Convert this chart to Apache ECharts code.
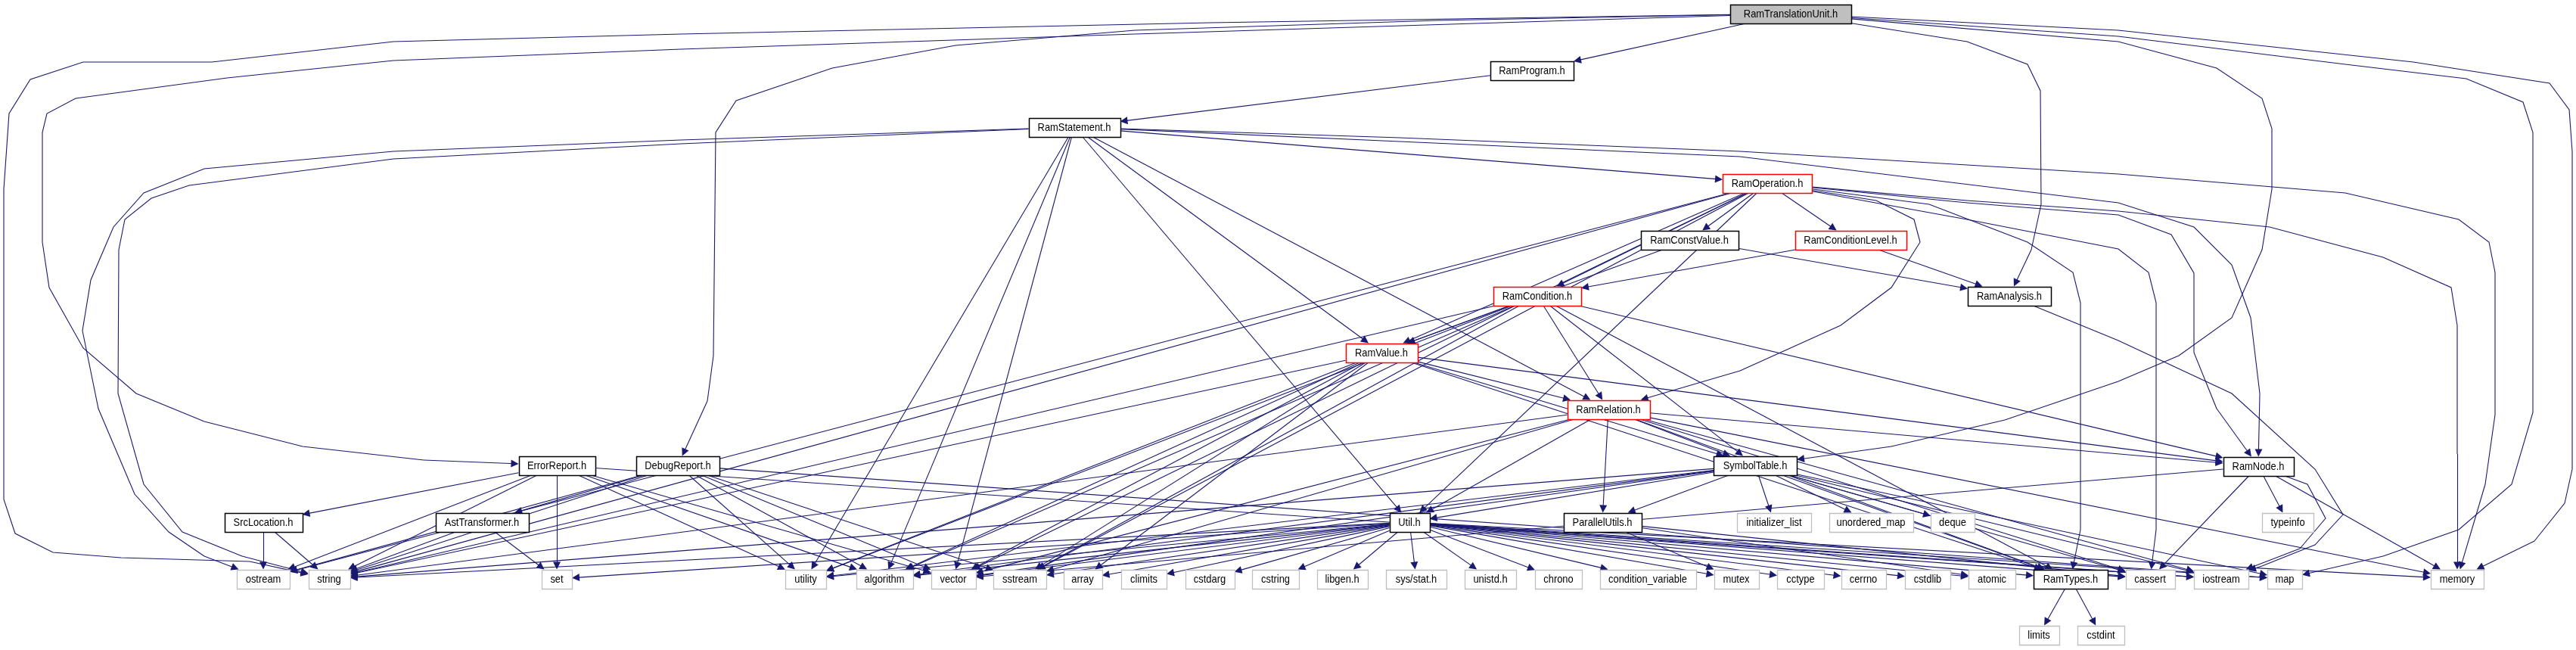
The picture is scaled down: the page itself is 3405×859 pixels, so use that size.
<!DOCTYPE html>
<html>
<head>
<meta charset="utf-8">
<script src="https://cdn.jsdelivr.net/npm/echarts@6/dist/echarts.min.js"></script>
<style>html,body{margin:0;padding:0;background:#fff;}#c{width:3405px;height:859px;}</style>
</head>
<body>
<div id="c"></div>
<script>
// ---- data: header files (nodes) ----
const rootNodes = ['RamTranslationUnit.h'];
const truncatedNodes = ['RamOperation.h', 'RamConditionLevel.h', 'RamCondition.h', 'RamValue.h', 'RamRelation.h'];
const projectNodes = ['RamProgram.h', 'RamStatement.h', 'RamConstValue.h', 'RamAnalysis.h', 'ErrorReport.h', 'DebugReport.h',
  'SymbolTable.h', 'RamNode.h', 'SrcLocation.h', 'AstTransformer.h', 'Util.h', 'ParallelUtils.h', 'RamTypes.h'];
const systemNodes = ['initializer_list', 'unordered_map', 'deque', 'typeinfo', 'ostream', 'string', 'set', 'utility', 'algorithm',
  'vector', 'sstream', 'array', 'climits', 'cstdarg', 'cstring', 'libgen.h', 'sys/stat.h', 'unistd.h', 'chrono',
  'condition_variable', 'mutex', 'cctype', 'cerrno', 'cstdlib', 'atomic', 'cassert', 'iostream', 'map', 'memory',
  'limits', 'cstdint'];

// ---- data: include edges [includer, included] ----
const edges = [
  ['RamTranslationUnit.h','RamProgram.h'],['RamTranslationUnit.h','RamAnalysis.h'],['RamTranslationUnit.h','DebugReport.h'],
  ['RamTranslationUnit.h','ErrorReport.h'],['RamTranslationUnit.h','SymbolTable.h'],['RamTranslationUnit.h','map'],
  ['RamTranslationUnit.h','memory'],['RamTranslationUnit.h','string'],
  ['RamProgram.h','RamStatement.h'],
  ['RamStatement.h','RamOperation.h'],['RamStatement.h','RamRelation.h'],['RamStatement.h','RamValue.h'],['RamStatement.h','RamNode.h'],
  ['RamStatement.h','Util.h'],['RamStatement.h','algorithm'],['RamStatement.h','vector'],['RamStatement.h','utility'],
  ['RamStatement.h','ostream'],['RamStatement.h','string'],['RamStatement.h','memory'],
  ['RamOperation.h','RamConstValue.h'],['RamOperation.h','RamConditionLevel.h'],['RamOperation.h','RamCondition.h'],
  ['RamOperation.h','RamValue.h'],['RamOperation.h','RamRelation.h'],['RamOperation.h','RamNode.h'],['RamOperation.h','RamTypes.h'],
  ['RamOperation.h','Util.h'],['RamOperation.h','cassert'],['RamOperation.h','memory'],['RamOperation.h','string'],
  ['RamOperation.h','vector'],['RamOperation.h','sstream'],['RamOperation.h','ostream'],
  ['RamConstValue.h','RamValue.h'],['RamConstValue.h','RamAnalysis.h'],
  ['RamConditionLevel.h','RamCondition.h'],['RamConditionLevel.h','RamAnalysis.h'],
  ['RamAnalysis.h','iostream'],
  ['RamCondition.h','RamValue.h'],['RamCondition.h','RamRelation.h'],['RamCondition.h','SymbolTable.h'],['RamCondition.h','RamNode.h'],
  ['RamCondition.h','RamTypes.h'],['RamCondition.h','string'],['RamCondition.h','algorithm'],['RamCondition.h','sstream'],
  ['RamCondition.h','utility'],
  ['RamValue.h','RamRelation.h'],['RamValue.h','SymbolTable.h'],['RamValue.h','RamNode.h'],['RamValue.h','RamTypes.h'],
  ['RamValue.h','array'],['RamValue.h','sstream'],['RamValue.h','vector'],['RamValue.h','algorithm'],['RamValue.h','string'],
  ['RamValue.h','utility'],
  ['RamRelation.h','Util.h'],['RamRelation.h','ParallelUtils.h'],['RamRelation.h','SymbolTable.h'],['RamRelation.h','RamNode.h'],
  ['RamRelation.h','RamTypes.h'],['RamRelation.h','string'],['RamRelation.h','vector'],['RamRelation.h','sstream'],
  ['RamRelation.h','cassert'],['RamRelation.h','iostream'],['RamRelation.h','memory'],
  ['SymbolTable.h','ParallelUtils.h'],['SymbolTable.h','Util.h'],['SymbolTable.h','initializer_list'],['SymbolTable.h','unordered_map'],
  ['SymbolTable.h','deque'],['SymbolTable.h','RamTypes.h'],['SymbolTable.h','cassert'],['SymbolTable.h','iostream'],
  ['SymbolTable.h','map'],['SymbolTable.h','string'],['SymbolTable.h','vector'],['SymbolTable.h','utility'],['SymbolTable.h','algorithm'],
  ['ParallelUtils.h','atomic'],['ParallelUtils.h','mutex'],['ParallelUtils.h','cassert'],
  ['Util.h','string'],['Util.h','set'],['Util.h','utility'],['Util.h','algorithm'],['Util.h','vector'],['Util.h','sstream'],
  ['Util.h','array'],['Util.h','climits'],['Util.h','cstdarg'],['Util.h','cstring'],['Util.h','libgen.h'],['Util.h','sys/stat.h'],
  ['Util.h','unistd.h'],['Util.h','chrono'],['Util.h','condition_variable'],['Util.h','mutex'],['Util.h','cctype'],
  ['Util.h','cerrno'],['Util.h','cstdlib'],['Util.h','atomic'],['Util.h','RamTypes.h'],['Util.h','cassert'],['Util.h','iostream'],
  ['Util.h','map'],['Util.h','memory'],
  ['RamNode.h','typeinfo'],['RamNode.h','cassert'],['RamNode.h','iostream'],['RamNode.h','memory'],['RamNode.h','vector'],
  ['RamTypes.h','limits'],['RamTypes.h','cstdint'],
  ['ErrorReport.h','SrcLocation.h'],['ErrorReport.h','set'],['ErrorReport.h','utility'],['ErrorReport.h','algorithm'],
  ['ErrorReport.h','vector'],['ErrorReport.h','string'],['ErrorReport.h','ostream'],['ErrorReport.h','iostream'],
  ['DebugReport.h','AstTransformer.h'],['DebugReport.h','string'],['DebugReport.h','ostream'],['DebugReport.h','utility'],
  ['DebugReport.h','vector'],['DebugReport.h','sstream'],['DebugReport.h','algorithm'],['DebugReport.h','map'],
  ['SrcLocation.h','ostream'],['SrcLocation.h','string'],
  ['AstTransformer.h','string'],['AstTransformer.h','set']
];

// ---- layout (box centre x, centre y, width) ----
const BOX_H = 25;
const layout = {
  'RamTranslationUnit.h':[2367,18,160], 'RamProgram.h':[2025,93,110], 'RamStatement.h':[1420,168,121],
  'RamOperation.h':[2336,242,118], 'RamConstValue.h':[2233,317,129], 'RamConditionLevel.h':[2446,317,147],
  'RamCondition.h':[2032,391,116], 'RamAnalysis.h':[2656,391,110], 'RamValue.h':[1826,466,95],
  'RamRelation.h':[2126,541,109], 'ErrorReport.h':[736,615,101], 'DebugReport.h':[896,615,110],
  'SymbolTable.h':[2320,615,110], 'RamNode.h':[2985,616,93], 'SrcLocation.h':[348,690,103],
  'AstTransformer.h':[637,690,123], 'Util.h':[1863,690,53], 'ParallelUtils.h':[2118,690,103],
  'initializer_list':[2345,690,98], 'unordered_map':[2473,690,111], 'deque':[2581,690,58], 'typeinfo':[3024,690,68],
  'ostream':[348,765,70], 'string':[435,765,55], 'set':[736,765,40], 'utility':[1065,765,54], 'algorithm':[1169,765,75],
  'vector':[1260,765,59], 'sstream':[1348,765,70], 'array':[1431,765,51], 'climits':[1512,765,60], 'cstdarg':[1599,765,65],
  'cstring':[1686,765,62], 'libgen.h':[1774,765,67], 'sys/stat.h':[1872,765,80], 'unistd.h':[1970,765,68],
  'chrono':[2060,765,62], 'condition_variable':[2178,765,127], 'mutex':[2295,765,59], 'cctype':[2380,765,62],
  'cerrno':[2463,765,59], 'cstdlib':[2548,765,60], 'atomic':[2633,765,62], 'RamTypes.h':[2737,765,98],
  'cassert':[2842,765,65], 'iostream':[2936,765,72], 'map':[3020,765,46], 'memory':[3248,765,70],
  'limits':[2695,839,53], 'cstdint':[2777,839,62]
};

// ---- edge routing waypoints (layout only) ----
const routes = {
  'RamTranslationUnit.h>string': [[1600,30],[900,45],[520,55],[280,82],[110,82],[40,105],[12,150],[5,250],[5,660],[20,705],[70,730],[160,737],[330,742]],
  'RamTranslationUnit.h>ErrorReport.h': [[1500,45],[900,65],[520,80],[300,103],[100,130],[62,150],[56,175],[56,320],[65,380],[110,460],[180,520],[270,557],[400,590],[560,608]],
  'RamTranslationUnit.h>DebugReport.h': [[1900,27],[1500,40],[1263,60],[1100,90],[973,133],[946,175],[943,470],[935,530]],
  'RamTranslationUnit.h>memory': [[2800,40],[3190,82],[3370,110],[3396,145],[3400,200],[3400,620],[3390,665],[3350,715]],
  'RamTranslationUnit.h>map': [[2800,48],[3100,85],[3260,104],[3335,135],[3348,175],[3348,545],[3320,640],[3250,700],[3150,735]],
  'RamTranslationUnit.h>SymbolTable.h': [[2800,55],[2930,90],[2990,130],[3003,170],[3003,250],[2990,330],[2950,420],[2880,470],[2800,504],[2650,555],[2500,590]],
  'RamTranslationUnit.h>RamAnalysis.h': [[2600,55],[2680,85],[2697,120],[2698,270],[2685,330]],
  'RamStatement.h>ostream': [[900,185],[520,200],[270,223],[190,255],[150,300],[120,370],[109,437],[130,540],[178,653],[223,703],[270,735]],
  'RamStatement.h>string': [[900,190],[520,210],[250,245],[200,262],[165,290],[157,330],[156,520],[190,640],[241,703],[320,735]],
  'RamStatement.h>memory': [[1850,182],[2300,200],[2800,230],[3100,255],[3250,290],[3290,320],[3298,360],[3298,548],[3285,640]],
  'RamStatement.h>RamNode.h': [[1850,187],[2300,207],[2800,268],[2900,300],[2950,350],[2975,420],[2987,520]],
  'RamOperation.h>memory': [[2600,265],[2800,279],[3000,300],[3150,340],[3240,380],[3248,430],[3248,600]],
  'RamOperation.h>RamNode.h': [[2600,268],[2800,284],[2870,310],[2900,361],[2900,466],[2930,540]],
  'RamOperation.h>cassert': [[2600,290],[2800,329],[2840,360],[2850,400],[2850,700]],
  'RamOperation.h>RamTypes.h': [[2550,270],[2680,320],[2740,360],[2750,400],[2750,700]],
  'RamOperation.h>RamRelation.h': [[2480,265],[2530,290],[2538,320],[2500,380],[2433,430],[2300,490]],
  'RamAnalysis.h>iostream': [[2800,450],[2950,520],[3060,620],[3097,680],[3060,720],[2990,748]],
  'RamNode.h>iostream': [[3050,640],[3074,685],[3040,725]]
};

const EDGE_COLOR = '#191970';
const ARROW = 10;

function kindOf(n) {
  if (rootNodes.includes(n)) return 'root';
  if (truncatedNodes.includes(n)) return 'red';
  if (projectNodes.includes(n)) return 'normal';
  return 'leaf';
}
function boxPoint(name, toward) {
  const c = layout[name];
  const hw = c[2] / 2, hh = BOX_H / 2;
  const dx = toward[0] - c[0], dy = toward[1] - c[1];
  if (dx === 0 && dy === 0) return [c[0], c[1]];
  const tx = dx !== 0 ? hw / Math.abs(dx) : Infinity;
  const ty = dy !== 0 ? hh / Math.abs(dy) : Infinity;
  const t = Math.min(tx, ty);
  return [c[0] + dx * t, c[1] + dy * t];
}

const pathData = [];
const arrowData = [];
edges.forEach(([s, t]) => {
  const wp = routes[s + '>' + t] || [];
  const sc = layout[s], tc = layout[t];
  const first = wp.length ? wp[0] : [tc[0], tc[1]];
  const start = boxPoint(s, first);
  const prev = wp.length ? wp[wp.length - 1] : start;
  const endB = boxPoint(t, wp.length ? prev : [sc[0], sc[1]]);
  const ddx = endB[0] - prev[0], ddy = endB[1] - prev[1];
  const len = Math.hypot(ddx, ddy) || 1;
  const end = [endB[0] - ddx / len * ARROW / 2, endB[1] - ddy / len * ARROW / 2];
  if (wp.length) {
    pathData.push({ coords: [start].concat(wp) });
  }
  arrowData.push({ coords: [prev, end] });
});

const allNodes = rootNodes.concat(truncatedNodes, projectNodes, systemNodes);
const nodeData = allNodes.map(n => {
  const c = layout[n];
  return { name: n, value: [c[0], c[1], c[2]] };
});

function renderNode(params, api) {
  const name = allNodes[params.dataIndex];
  const k = kindOf(name);
  const p = api.coord([api.value(0), api.value(1)]);
  const w = api.value(2);
  const x0 = Math.round(p[0] - w / 2) + 0.5;
  const y0 = Math.round(p[1] - BOX_H / 2) + 0.5;
  return {
    type: 'group',
    children: [
      {
        type: 'rect',
        shape: { x: x0, y: y0, width: w, height: BOX_H },
        style: {
          fill: k === 'root' ? '#bfbfbf' : '#ffffff',
          stroke: k === 'red' ? '#ff0000' : (k === 'leaf' ? '#bfbfbf' : '#000000'),
          lineWidth: k === 'leaf' ? 1.3 : 1.5
        }
      },
      {
        type: 'text',
        x: p[0], y: p[1] + 0.5,
        scaleX: 0.86,
        style: {
          text: name, x: 0, y: 0, align: 'center', verticalAlign: 'middle',
          font: '15px "Liberation Sans", Arial, sans-serif', fill: '#000000'
        }
      }
    ]
  };
}

const chart = echarts.init(document.getElementById('c'), null, { renderer: 'canvas', width: 3405, height: 859 });
chart.setOption({
  animation: false,
  backgroundColor: '#ffffff',
  grid: { left: 0, right: 0, top: 0, bottom: 0 },
  xAxis: { type: 'value', min: 0, max: 3405, show: false },
  yAxis: { type: 'value', min: 0, max: 859, inverse: true, show: false },
  series: [
    {
      type: 'lines', coordinateSystem: 'cartesian2d', polyline: true, silent: true, z: 1,
      lineStyle: { color: EDGE_COLOR, width: 1.1, opacity: 1 },
      data: pathData
    },
    {
      type: 'lines', coordinateSystem: 'cartesian2d', silent: true, z: 2,
      symbol: ['none', 'triangle'], symbolSize: ARROW,
      lineStyle: { color: EDGE_COLOR, width: 1.1, opacity: 1 },
      data: arrowData
    },
    {
      type: 'custom', coordinateSystem: 'cartesian2d', z: 3, silent: true,
      encode: { x: 0, y: 1 },
      data: nodeData,
      renderItem: renderNode
    }
  ]
});
</script>
</body>
</html>
